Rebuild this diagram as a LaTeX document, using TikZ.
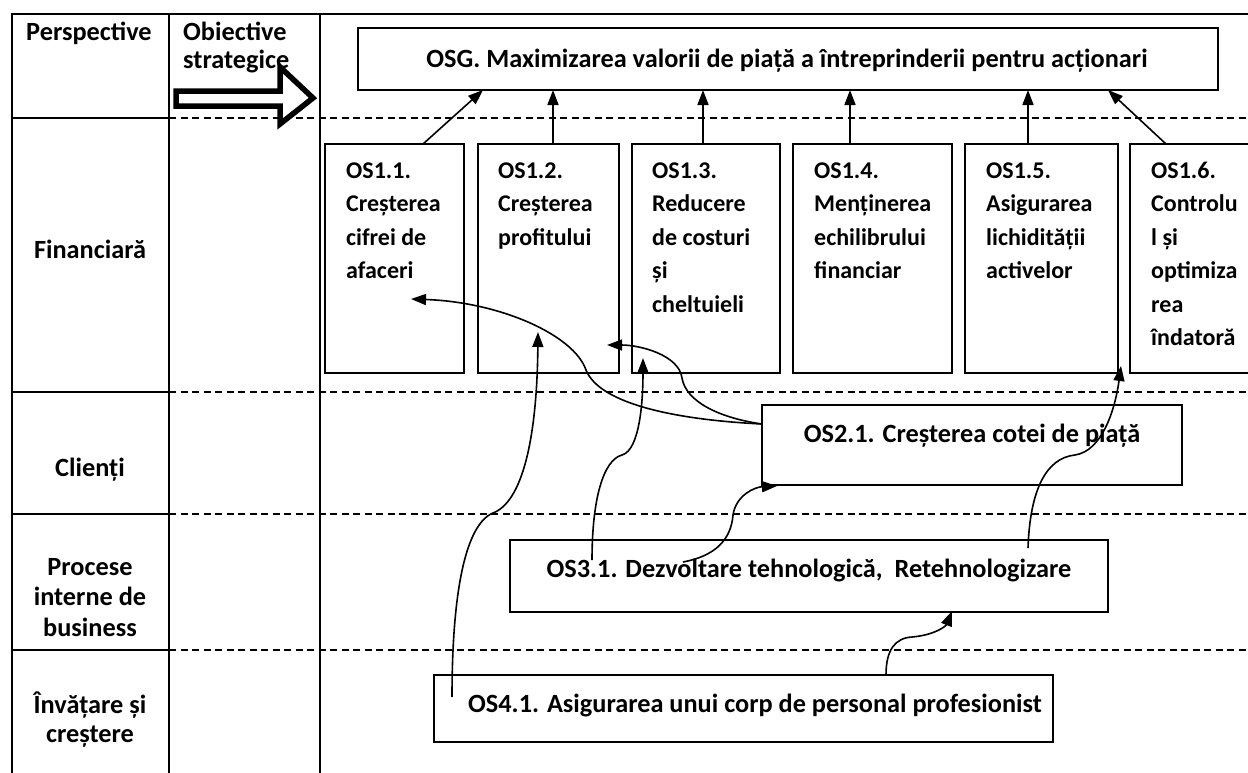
\documentclass[tikz,border=0pt]{standalone}
\usepackage{fontspec}
\setmainfont{Carlito}
\usetikzlibrary{arrows.meta}

\begin{document}
\begin{tikzpicture}[x=1pt,y=-1pt,
  grid/.style={line width=2.6pt},
  lane/.style={line width=2pt, dash pattern=on 7pt off 4.5pt},
  box/.style={draw, line width=2pt, inner sep=0pt, outer sep=0pt, anchor=north west},
  hdr/.style={font=\fontsize{26.3}{29}\selectfont\bfseries, inner sep=0pt, anchor=base},
  lbl/.style={font=\fontsize{26.3}{30.5}\selectfont\bfseries, inner sep=0pt, align=center, anchor=north},
  obj/.style={font=\fontsize{24}{33.5}\selectfont\bfseries, inner sep=0pt, align=left, anchor=north west},
  link/.style={line width=1.6pt, -{Triangle[length=15pt,width=11pt]}},
  bigarrow/.style={line width=5.5pt, fill=white, line join=miter},
]
\clip (0,0) rectangle (1248,772);

% table frame
\draw[grid] (12,14) -- (1260,14);
\draw[grid] (12,13) -- (12,780);
\draw[grid] (169,13) -- (169,780);
\draw[grid] (320,13) -- (320,780);
\foreach \y in {118,392,514,650}{
  \draw[grid] (12,\y) -- (169,\y);
  \draw[lane] (169,\y) -- (1260,\y);
}

% column headers
\node[hdr] (hpersp) at (89,40) {Perspective};
\node[font=\fontsize{26.3}{28.5}\selectfont\bfseries, inner sep=0pt, align=left, anchor=north west]
  (hobj) at (183,20.05) {\strut Obiective\\strategice};
\draw[bigarrow] (176,91) -- (280,91) -- (280,67) -- (313,98) -- (280,124) -- (280,106) -- (176,106) -- cycle;

% perspective labels
\node[hdr] (lfin) at (90,258) {Financiară};
\node[hdr] (lcli) at (90,476) {Clienți};
\node[lbl] (lproc) at (90,553.65) {\strut Procese\\interne de\\business};
\node[lbl, font=\fontsize{26.3}{28.5}\selectfont\bfseries] (linv) at (90,692) {\strut Învățare și\\creștere};

% general objective
\node[box, minimum width=860pt, minimum height=62pt] (osg) at (358,28) {};
\node[hdr] (tosg) at (787,67) {OSG. Maximizarea valorii de piață a întreprinderii pentru acționari};

% financial objectives
\node[box, minimum width=139pt, minimum height=229pt] (b11) at (325,144) {};
\node[box, minimum width=141pt, minimum height=229pt] (b12) at (478,144) {};
\node[box, minimum width=148pt, minimum height=229pt] (b13) at (632,144) {};
\node[box, minimum width=159pt, minimum height=229pt] (b14) at (793,144) {};
\node[box, minimum width=153pt, minimum height=229pt] (b15) at (965,144) {};
\node[box, minimum width=140pt, minimum height=229pt] (b16) at (1130,144) {};

\node[obj] (t11) at (346,154.55) {\strut OS1.1.\\Creșterea\\cifrei de\\afaceri};
\node[obj] (t12) at (498,154.55) {\strut OS1.2.\\Creșterea\\profitului};
\node[obj] (t13) at (652,154.55) {\strut OS1.3.\\Reducere\\de costuri\\și\\cheltuieli};
\node[obj] (t14) at (814,154.55) {\strut OS1.4.\\Menținerea\\echilibrului\\financiar};
\node[obj] (t15) at (986,154.55) {\strut OS1.5.\\Asigurarea\\lichidității\\activelor};
\node[obj] (t16) at (1151,154.55) {\strut OS1.6.\\Controlu\\l și\\optimiza\\rea\\îndatoră};

% customers, internal processes, learning
\node[box, minimum width=420pt, minimum height=80pt] (b21) at (762,405) {};
\node[hdr] (t21) at (972,442) {OS2.1. Creșterea cotei de piață};
\node[box, minimum width=598pt, minimum height=72pt] (b31) at (510,540) {};
\node[hdr] (t31) at (809,577) {OS3.1. Dezvoltare tehnologică,\ \ Retehnologizare};
\node[box, minimum width=619pt, minimum height=67pt] (b41) at (434,675) {};
\node[hdr] (t41) at (755,712) {OS4.1. Asigurarea unui corp de personal profesionist};

% links to the general objective
\draw[link] ([xshift=98pt]b11.north west) -- ([xshift=125pt]osg.south west);
\draw[link] ([xshift=75pt]b12.north west) -- ([xshift=195pt]osg.south west);
\draw[link] ([xshift=71pt]b13.north west) -- ([xshift=345pt]osg.south west);
\draw[link] ([xshift=57pt]b14.north west) -- ([xshift=492pt]osg.south west);
\draw[link] ([xshift=63pt]b15.north west) -- ([xshift=670pt]osg.south west);
\draw[link] ([xshift=36pt]b16.north west) -- ([xshift=750pt]osg.south west);

% cause-effect links between perspectives
\draw[link] ([xshift=18pt,yshift=-22pt]b41.north west)
  .. controls (452,590) and (466,524) .. (493,513)
  .. controls (522,502) and (537,440) .. ([xshift=60pt,yshift=41pt]b12.south west);
\draw[link] ([xshift=82pt,yshift=-20pt]b31.north west)
  .. controls (592,500) and (603,460) .. (622,455)
  .. controls (640,450) and (643,400) .. ([xshift=11pt,yshift=15pt]b13.south west);
\draw[link] ([xshift=173pt,yshift=-22pt]b31.north west)
  .. controls (715,556) and (731,540) .. (733,515)
  .. controls (736,495) and (755,487) .. ([xshift=15pt,yshift=-1pt]b21.south west);
\draw[link] ([yshift=-19pt]b21.north west)
  .. controls (680,420) and (600,405) .. (586,370)
  .. controls (574,335) and (500,302) .. ([xshift=86pt,yshift=-155pt]b11.north west);
\draw[link] ([yshift=-19pt]b21.north west)
  .. controls (720,418) and (686,402) .. (682,378)
  .. controls (679,355) and (640,345) .. ([xshift=-12pt,yshift=28pt]b12.south east);
\draw[link] ([xshift=-80pt,yshift=-8pt]b31.north east)
  .. controls (1030,490) and (1046,458) .. (1075,455)
  .. controls (1102,451) and (1115,410) .. ([xshift=3pt,yshift=7pt]b15.south east);
\draw[link] ([xshift=452pt]b41.north west)
  .. controls (886,650) and (895,638) .. (912,637)
  .. controls (935,635) and (946,626) .. ([xshift=442pt,yshift=1pt]b31.south west);
\end{tikzpicture}
\end{document}
